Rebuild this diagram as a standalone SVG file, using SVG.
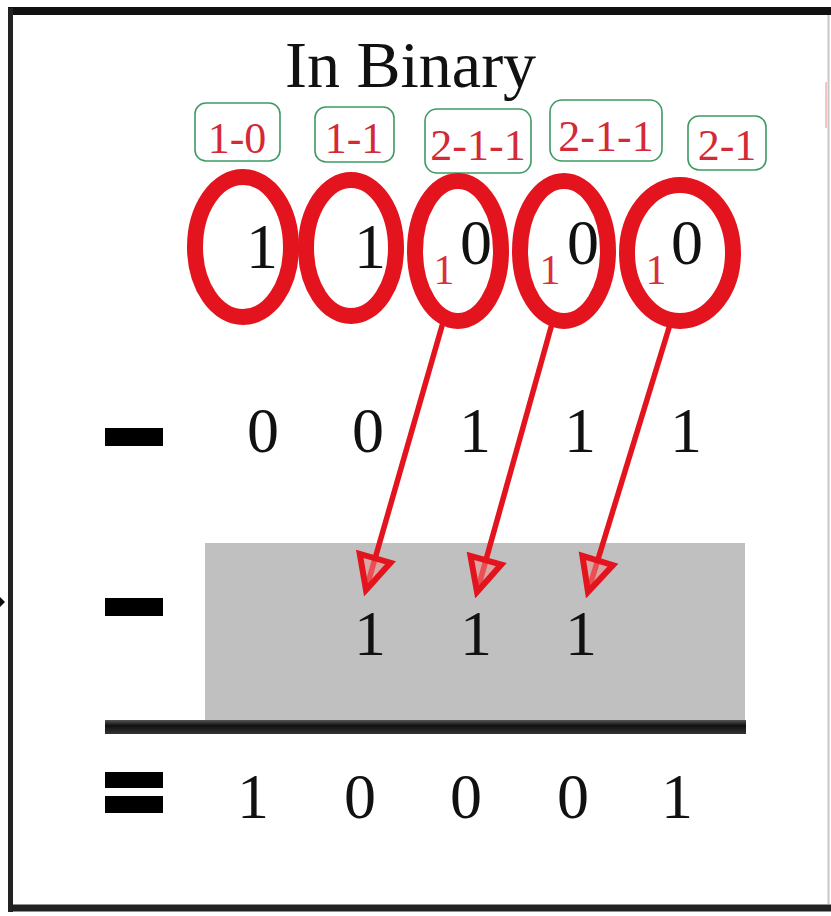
<svg xmlns="http://www.w3.org/2000/svg" width="831" height="916" viewBox="0 0 831 916">
  <style>
    .num { font-family: "Liberation Serif", "Times New Roman", serif; font-size: 64px; fill: #111; text-anchor: middle; }
    .title { font-family: "Liberation Serif", "Times New Roman", serif; font-size: 66px; fill: #111; }
    .lbl { font-family: "Liberation Serif", "Times New Roman", serif; font-size: 44px; fill: #d42a36; text-anchor: middle; }
    .carry { font-family: "Liberation Serif", "Times New Roman", serif; font-size: 42px; fill: #d8303c; text-anchor: middle; }
    .box { fill: none; stroke: #3e9a62; stroke-width: 1.6; }
    .ring { fill: none; stroke: #e3141e; stroke-width: 16; }
    .op { fill: #000; }
    .arrow { fill: none; stroke: #e3141e; stroke-width: 5.5; }
  </style>
  <defs>
    <marker id="head" markerUnits="userSpaceOnUse" markerWidth="44" markerHeight="44" viewBox="-38 -22 44 44" refX="0" refY="0" orient="auto">
      <path d="M0,0 L-33,-16 L-33,16 Z" fill="#f28a8a" fill-opacity="0.5" stroke="#e3141e" stroke-width="6" stroke-linejoin="miter"/>
    </marker>
    <linearGradient id="ruleShade" x1="0" y1="0" x2="0" y2="1">
      <stop offset="0" stop-color="#555"/>
      <stop offset="0.4" stop-color="#111"/>
      <stop offset="1" stop-color="#333"/>
    </linearGradient>
  </defs>

  <rect width="831" height="916" fill="#fff"/>

  <!-- frame -->
  <g id="frame">
    <line x1="8" y1="11" x2="831" y2="11" stroke="#111" stroke-width="8"/>
    <line x1="10.5" y1="8" x2="10.5" y2="912" stroke="#222" stroke-width="5"/>
    <line x1="8" y1="908" x2="831" y2="908" stroke="#222" stroke-width="7"/>
    <line x1="828.5" y1="15" x2="828.5" y2="904" stroke="#c8c8c8" stroke-width="2"/>
    <line x1="826" y1="82" x2="826" y2="128" stroke="#f2b0b0" stroke-width="1.5"/>
    <path d="M0,597 L5,602 L0,607 Z" fill="#111"/>
  </g>

  <!-- title -->
  <g id="title">
    <text class="title" x="285" y="87">In Binary</text>
  </g>

  <!-- borrow labels -->
  <g id="label-1">
    <rect class="box" x="195" y="103" width="85" height="58" rx="11"/>
    <text class="lbl" x="237" y="153">1-0</text>
  </g>
  <g id="label-2">
    <rect class="box" x="315" y="107" width="79" height="55" rx="11"/>
    <text class="lbl" x="354" y="153">1-1</text>
  </g>
  <g id="label-3">
    <rect class="box" x="425" y="109" width="106" height="64" rx="12"/>
    <text class="lbl" x="478" y="160">2-1-1</text>
  </g>
  <g id="label-4">
    <rect class="box" x="550" y="100" width="112" height="61" rx="12"/>
    <text class="lbl" x="606" y="151">2-1-1</text>
  </g>
  <g id="label-5">
    <rect class="box" x="688" y="116" width="78" height="54" rx="11"/>
    <text class="lbl" x="727" y="160">2-1</text>
  </g>

  <!-- minuend digits, circled -->
  <g id="digit-1">
    <ellipse class="ring" cx="243" cy="247" rx="48" ry="70"/>
    <text class="num" x="262" y="268">1</text>
  </g>
  <g id="digit-2">
    <ellipse class="ring" cx="351" cy="248" rx="45" ry="68"/>
    <text class="num" x="370" y="268">1</text>
  </g>
  <g id="digit-3">
    <ellipse class="ring" cx="458" cy="251" rx="43" ry="70"/>
    <text class="num" x="476" y="264">0</text>
    <text class="carry" x="444" y="284">1</text>
  </g>
  <g id="digit-4">
    <ellipse class="ring" cx="564" cy="251" rx="44" ry="70"/>
    <text class="num" x="583" y="264">0</text>
    <text class="carry" x="550" y="284">1</text>
  </g>
  <g id="digit-5">
    <ellipse class="ring" cx="680" cy="253" rx="53" ry="68"/>
    <text class="num" x="687" y="264">0</text>
    <text class="carry" x="656" y="284">1</text>
  </g>

  <!-- subtrahend row -->
  <g id="row-subtrahend">
    <rect class="op" x="105" y="428" width="58" height="18"/>
    <text class="num" x="263" y="452">0</text>
    <text class="num" x="368" y="452">0</text>
    <text class="num" x="475" y="452">1</text>
    <text class="num" x="580" y="452">1</text>
    <text class="num" x="686" y="452">1</text>
  </g>

  <!-- borrowed ones row -->
  <g id="row-borrow">
    <rect x="205" y="543" width="540" height="180" fill="#c0c0c0"/>
    <rect class="op" x="105" y="598" width="58" height="18"/>
    <text class="num" x="370" y="655">1</text>
    <text class="num" x="476" y="655">1</text>
    <text class="num" x="581" y="655">1</text>
  </g>

  <!-- result rule -->
  <g id="rule">
    <rect x="105" y="720" width="641" height="14" fill="url(#ruleShade)"/>
  </g>

  <!-- result row -->
  <g id="row-result">
    <rect class="op" x="105" y="772" width="58" height="16"/>
    <rect class="op" x="105" y="796" width="58" height="17"/>
    <text class="num" x="253" y="818">1</text>
    <text class="num" x="360" y="818">0</text>
    <text class="num" x="466" y="818">0</text>
    <text class="num" x="573" y="818">0</text>
    <text class="num" x="677" y="818">1</text>
  </g>

  <!-- connectors -->
  <g id="connectors">
    <line class="arrow" x1="446" y1="312" x2="366" y2="590" marker-end="url(#head)"/>
    <line class="arrow" x1="555" y1="313" x2="477" y2="592" marker-end="url(#head)"/>
    <line class="arrow" x1="672" y1="318" x2="588" y2="592" marker-end="url(#head)"/>
  </g>
</svg>
